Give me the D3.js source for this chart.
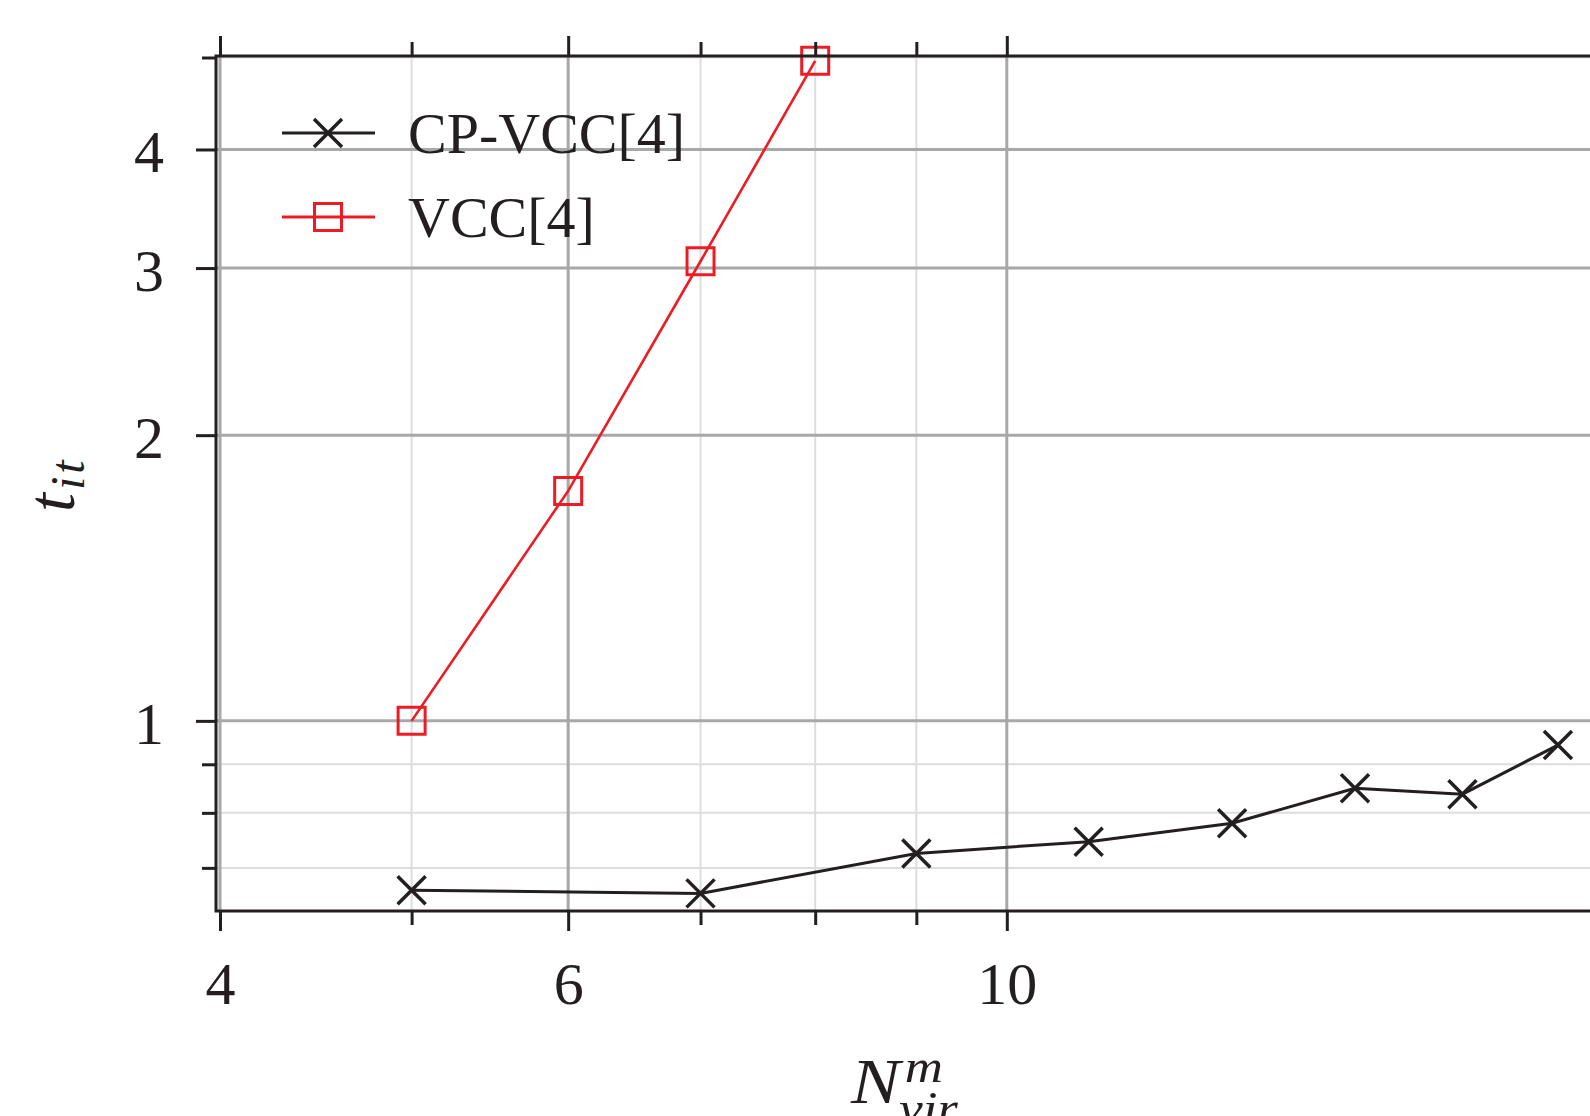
<!DOCTYPE html>
<html>
  <head>
    <meta charset="utf-8">
    <title>t_it vs N_vir</title>
    <script src="https://cdn.jsdelivr.net/npm/d3@7"></script>
    <style>
      body { margin: 0; background: #fff; }
      svg { display: block; font-family: "Liberation Serif", "DejaVu Serif", serif; }
      .tick text { fill: #231f20; font-size: 60px; font-family: "Liberation Serif", serif; }
      .tick line { stroke: #231f20; stroke-width: 3px; }
      .grid-major { stroke: #a7a8aa; stroke-width: 3px; }
      .grid-minor { stroke: #dcdddf; stroke-width: 2px; }
    </style>
  </head>
  <body>
    <svg id="chart" width="1590" height="1116"></svg>
    <script>
      // tick values
      const xMajorTicks = [4, 6, 10];
      const xMinorTicks = [5, 7, 8, 9];
      const yMajorTicks = [1, 2, 3, 4];
      const yMinorTicks = [0.7, 0.8, 0.9, 5];
      // series
      const cpName = "CP-VCC[4]";
      const cpN = [5, 7, 9, 11, 13, 15, 17, 19];
      const cpT = [0.663, 0.658, 0.725, 0.746, 0.780, 0.849, 0.837, 0.943];
      const vccName = "VCC[4]";
      const vccN = [5, 6, 7, 8];
      const vccT = [1.0, 1.747, 3.05, 4.96];

      const black = "#231f20";
      const red = "#ed1c24";

      const chart = d3.select("#chart");
      // plot frame
      const frame = { left: 216, top: 56, bottom: 911, right: 1606 };
      const x = d3.scaleLog().domain([4, 20]).range([220, 1602]);
      const y = d3.scaleLog().domain([0.632, 5]).range([910, 57.5]);

      // grid
      const grid = chart.append("g");
      grid.selectAll(".gx-minor").data(xMinorTicks).enter().append("line")
        .attr("class", "grid-minor")
        .attr("x1", d => x(d)).attr("x2", d => x(d))
        .attr("y1", frame.top).attr("y2", frame.bottom);
      grid.selectAll(".gy-minor").data(yMinorTicks).enter().append("line")
        .attr("class", "grid-minor")
        .attr("y1", d => y(d)).attr("y2", d => y(d))
        .attr("x1", frame.left).attr("x2", frame.right);
      grid.selectAll(".gx-major").data(xMajorTicks).enter().append("line")
        .attr("class", "grid-major")
        .attr("x1", d => x(d)).attr("x2", d => x(d))
        .attr("y1", frame.top).attr("y2", frame.bottom);
      grid.selectAll(".gy-major").data(yMajorTicks).enter().append("line")
        .attr("class", "grid-major")
        .attr("y1", d => y(d)).attr("y2", d => y(d))
        .attr("x1", frame.left).attr("x2", frame.right);

      // series
      const line = d3.line().x(d => x(d[0])).y(d => y(d[1]));
      const cpData = cpN.map((n, i) => [n, cpT[i]]);
      const vccData = vccN.map((n, i) => [n, vccT[i]]);
      const crossPath = "M-14,-14L14,14M-14,14L14,-14";
      const squarePath = "M-13.5,-13.5H13.5V13.5H-13.5Z";

      chart.append("path").datum(vccData)
        .attr("d", line).attr("fill", "none")
        .attr("stroke", red).attr("stroke-width", 2.6);
      chart.selectAll(".vcc").data(vccData).enter().append("path")
        .attr("transform", d => "translate(" + x(d[0]) + "," + y(d[1]) + ")")
        .attr("d", squarePath).attr("fill", "none")
        .attr("stroke", red).attr("stroke-width", 3);

      chart.append("path").datum(cpData)
        .attr("d", line).attr("fill", "none")
        .attr("stroke", black).attr("stroke-width", 3);
      chart.selectAll(".cp").data(cpData).enter().append("path")
        .attr("transform", d => "translate(" + x(d[0]) + "," + y(d[1]) + ")")
        .attr("d", crossPath).attr("fill", "none")
        .attr("stroke", black).attr("stroke-width", 3.5);

      // frame
      chart.append("rect")
        .attr("x", frame.left).attr("y", frame.top)
        .attr("width", frame.right - frame.left).attr("height", frame.bottom - frame.top)
        .attr("fill", "none").attr("stroke", black).attr("stroke-width", 3);

      // axes
      function addAxis(axis, tx, ty) {
        const g = chart.append("g")
          .attr("transform", "translate(" + tx + "," + ty + ")")
          .call(axis)
          .attr("font-family", null)
          .attr("font-size", null)
          .attr("fill", null);
        g.select(".domain").remove();
        g.selectAll(".tick line").attr("stroke", null);
        g.selectAll(".tick text").attr("fill", null);
        return g;
      }
      const left = addAxis(d3.axisLeft(y).tickValues(yMajorTicks).tickSize(20)
        .tickPadding(32).tickFormat(d3.format("d")), frame.left, 0);
      left.selectAll("text").attr("dy", "0.37em");
      addAxis(d3.axisLeft(y).tickValues(yMinorTicks).tickSize(14).tickFormat(""), frame.left, 0);

      addAxis(d3.axisBottom(x).tickValues(xMajorTicks).tickSize(20)
        .tickPadding(30).tickFormat(d3.format("d")), 0, frame.bottom);
      addAxis(d3.axisBottom(x).tickValues(xMinorTicks).tickSize(14).tickFormat(""), 0, frame.bottom);
      addAxis(d3.axisTop(x).tickValues(xMajorTicks).tickSize(20).tickFormat(""), 0, frame.top);
      addAxis(d3.axisTop(x).tickValues(xMinorTicks).tickSize(14).tickFormat(""), 0, frame.top);

      // axis labels (stretched a little to match the wider math italic)
      const xLabel = chart.append("text")
        .attr("transform", "translate(851,1103) scale(1.15,1)")
        .attr("font-size", 64).attr("font-style", "italic").attr("fill", black);
      xLabel.append("tspan").text("N");
      xLabel.append("tspan").attr("font-size", 46).attr("dx", 4).attr("dy", -21).text("m");
      xLabel.append("tspan").attr("font-size", 46).attr("dx", -38).attr("dy", 42).text("vir");

      const yLabel = chart.append("text")
        .attr("transform", "translate(74,512) rotate(-90)")
        .attr("font-size", 68).attr("font-style", "italic").attr("fill", black);
      yLabel.append("tspan").text("t");
      yLabel.append("tspan").attr("font-size", 48).attr("dx", 3).attr("dy", 10)
        .attr("letter-spacing", 3).text("it");

      // legend
      const legend = chart.append("g");
      const entries = [
        { name: cpName, color: black, marker: crossPath, width: 3.5, y: 133 },
        { name: vccName, color: red, marker: squarePath, width: 3, y: 217 }
      ];
      const items = legend.selectAll("g").data(entries).enter().append("g")
        .attr("transform", d => "translate(0," + d.y + ")");
      items.append("line")
        .attr("x1", 282).attr("x2", 375)
        .attr("stroke", d => d.color).attr("stroke-width", 3);
      items.append("path")
        .attr("transform", "translate(328,0)")
        .attr("d", d => d.marker).attr("fill", "none")
        .attr("stroke", d => d.color).attr("stroke-width", d => d.width);
      items.append("text")
        .attr("x", 408).attr("y", 20)
        .attr("font-size", 58).attr("fill", black)
        .text(d => d.name);
    </script>
  </body>
</html>
